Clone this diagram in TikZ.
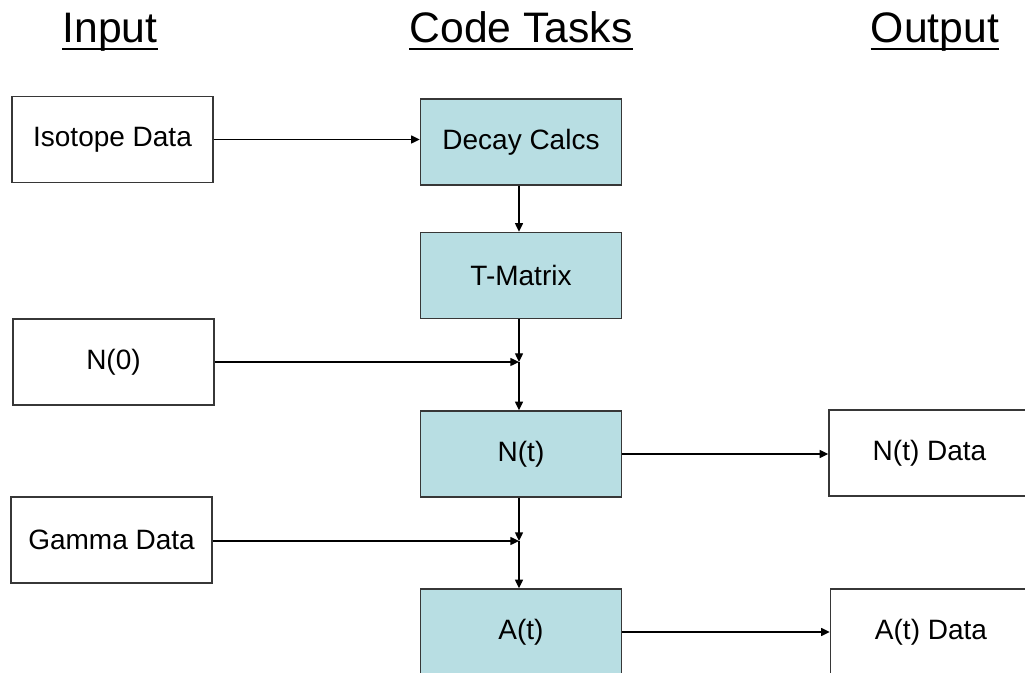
\documentclass[tikz,border=0pt]{standalone}
\usepackage{fontspec}
\setmainfont{Liberation Sans}
\usepackage{tikz}
\usetikzlibrary{arrows.meta, positioning, calc}
\definecolor{TaskCyan}{RGB}{184, 222, 227}
\definecolor{BoxEdge}{RGB}{55, 55, 55}

\begin{document}
\begin{tikzpicture}[x=0.75pt,y=-0.75pt,
    databox/.style={draw=BoxEdge, line width=1.1pt, fill=white, minimum width=150.75pt,
      minimum height=64.5pt, inner sep=0pt, font=\fontsize{21}{24}\selectfont},
    taskbox/.style={databox, fill=TaskCyan},
    headtext/.style={anchor=base, inner sep=0pt, font=\fontsize{32}{38}\selectfont},
    flow/.style={line width=1pt, -{Triangle[length=6.5pt,width=6pt]}}]
  \path[use as bounding box] (0,0) rectangle (1025,673);

  % column titles
  \node[headtext] (hin) at (110,43) {Input};
  \node[headtext] (hcode) at (521,43) {Code Tasks};
  \node[headtext] (hout) at (935,43) {Output};
  \foreach \h in {hin,hcode,hout}{
    \draw[line width=1.5pt] ($(\h.base west)+(0,6)$) -- ($(\h.base east)+(0,6)$);
  }

  % inputs
  \node[databox] (iso) at (112.5,139.5) {Isotope Data};
  \node[databox] (nzero) at (113.5,362) {N(0)};
  \node[databox] (gamma) at (111.5,540) {Gamma Data};

  % code tasks
  \node[taskbox] (decay) at (521,142) {Decay Calcs};
  \node[taskbox] (tmat) at (521,275.5) {T-Matrix};
  \node[taskbox] (nt) at (521,454) {N(t)};
  \node[taskbox] (at) at (521,632) {A(t)};
  \coordinate (jn) at (519,362);
  \coordinate (ja) at (519,541);

  % outputs
  \node[databox] (ntdata) at (929.5,453) {N(t) Data};
  \node[databox] (atdata) at (931,632) {A(t) Data};

  \draw[flow] (iso.east) -- (iso.east -| decay.west);
  \draw[flow] (decay.south -| jn) -- (tmat.north -| jn);
  \draw[flow] (tmat.south -| jn) -- (jn);
  \draw[flow] (nzero.east |- jn) -- (jn);
  \draw[flow] (jn) -- (nt.north -| jn);
  \draw[flow] (nt.south -| ja) -- (ja);
  \draw[flow] (gamma.east |- ja) -- (ja);
  \draw[flow] (ja) -- (at.north -| ja);
  \draw[flow] (nt.east) -- (nt.east -| ntdata.west);
  \draw[flow] (at.east) -- (at.east -| atdata.west);
\end{tikzpicture}
\end{document}
